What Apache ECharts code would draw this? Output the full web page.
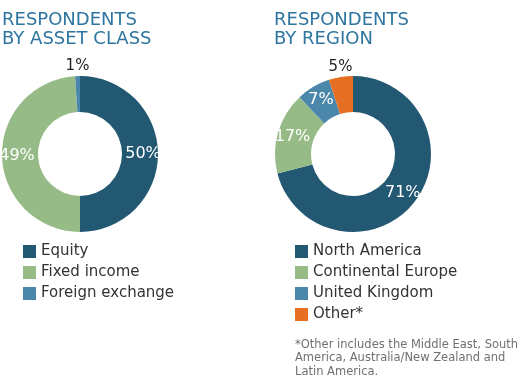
<!DOCTYPE html>
<html>
<head>
<meta charset="utf-8">
<script src="https://cdn.jsdelivr.net/npm/echarts@6/dist/echarts.min.js"></script>
<style>html,body{margin:0;padding:0;background:#fff}#c{width:524px;height:384px}</style>
</head>
<body>
<div id="c"></div>
<script>
const assetCategories = ['Equity', 'Fixed income', 'Foreign exchange'];
const assetValues = [50, 49, 1];
const assetColors = ['#235872', '#97bb87', '#4a87ab'];

const regionCategories = ['North America', 'Continental Europe', 'United Kingdom', 'Other*'];
const regionValues = [71, 17, 7, 5];
const regionColors = ['#235872', '#97bb87', '#4a87ab', '#e66f24'];

const titleLeft = 'RESPONDENTS\nBY ASSET CLASS';
const titleRight = 'RESPONDENTS\nBY REGION';
const footnote = '*Other includes the Middle East, South\nAmerica, Australia/New Zealand and\nLatin America.';

const FONT = 'DejaVu Sans';
const SMALL = 5; // slices at or below this get an outside label

function buildData(cats, vals, colors) {
  return cats.map((c, i) => {
    const d = { name: c, value: vals[i], itemStyle: { color: colors[i] } };
    if (vals[i] <= SMALL) {
      d.label = { position: 'outside', color: '#222', fontSize: 15, distanceToLabelLine: 0 };
      d.labelLine = { show: false, length: 2, length2: 0 };
    }
    return d;
  });
}

function makeLayout(vals) {
  return function (params) {
    if (vals[params.dataIndex] <= SMALL) {
      return { align: 'center', verticalAlign: 'bottom' };
    }
    return {};
  };
}

const chart = echarts.init(document.getElementById('c'), null, { renderer: 'canvas' });
const titleStyle = { color: '#2e75a0', fontSize: 18, fontWeight: 'normal', fontFamily: FONT, lineHeight: 19 };
const labelBase = { show: true, position: 'inside', color: '#fff', fontSize: 16, fontFamily: FONT, formatter: '{c}%' };
const legendText = { color: '#333', fontSize: 15, fontFamily: FONT, padding: [0, 0, 0, 0] };

chart.setOption({
  animation: false,
  title: [
    { text: titleLeft, left: 2, top: 11, textStyle: titleStyle, padding: 0 },
    { text: titleRight, left: 274, top: 11, textStyle: titleStyle, padding: 0 },
    { text: footnote, left: 295, top: 338, padding: 0,
      textStyle: { color: '#707070', fontSize: 11.5, fontWeight: 'normal', fontFamily: FONT, lineHeight: 13.5 } }
  ],
  legend: [
    { data: assetCategories, orient: 'vertical', left: 23, top: 244, itemWidth: 13, itemHeight: 13, itemGap: 6,
      icon: 'rect', padding: 0, textStyle: legendText },
    { data: regionCategories, orient: 'vertical', left: 295, top: 244, itemWidth: 13, itemHeight: 13, itemGap: 6,
      icon: 'rect', padding: 0, textStyle: legendText }
  ],
  series: [
    {
      type: 'pie', center: [80, 154], radius: [42, 78], startAngle: 90, clockwise: true,
      label: labelBase, labelLine: { show: false }, silent: true,
      itemStyle: { borderWidth: 0 },
      labelLayout: makeLayout(assetValues),
      data: buildData(assetCategories, assetValues, assetColors)
    },
    {
      type: 'pie', center: [353, 154], radius: [42, 78], startAngle: 90, clockwise: true,
      label: labelBase, labelLine: { show: false }, silent: true,
      itemStyle: { borderWidth: 0 },
      labelLayout: makeLayout(regionValues),
      data: buildData(regionCategories, regionValues, regionColors)
    }
  ]
});
</script>
</body>
</html>
